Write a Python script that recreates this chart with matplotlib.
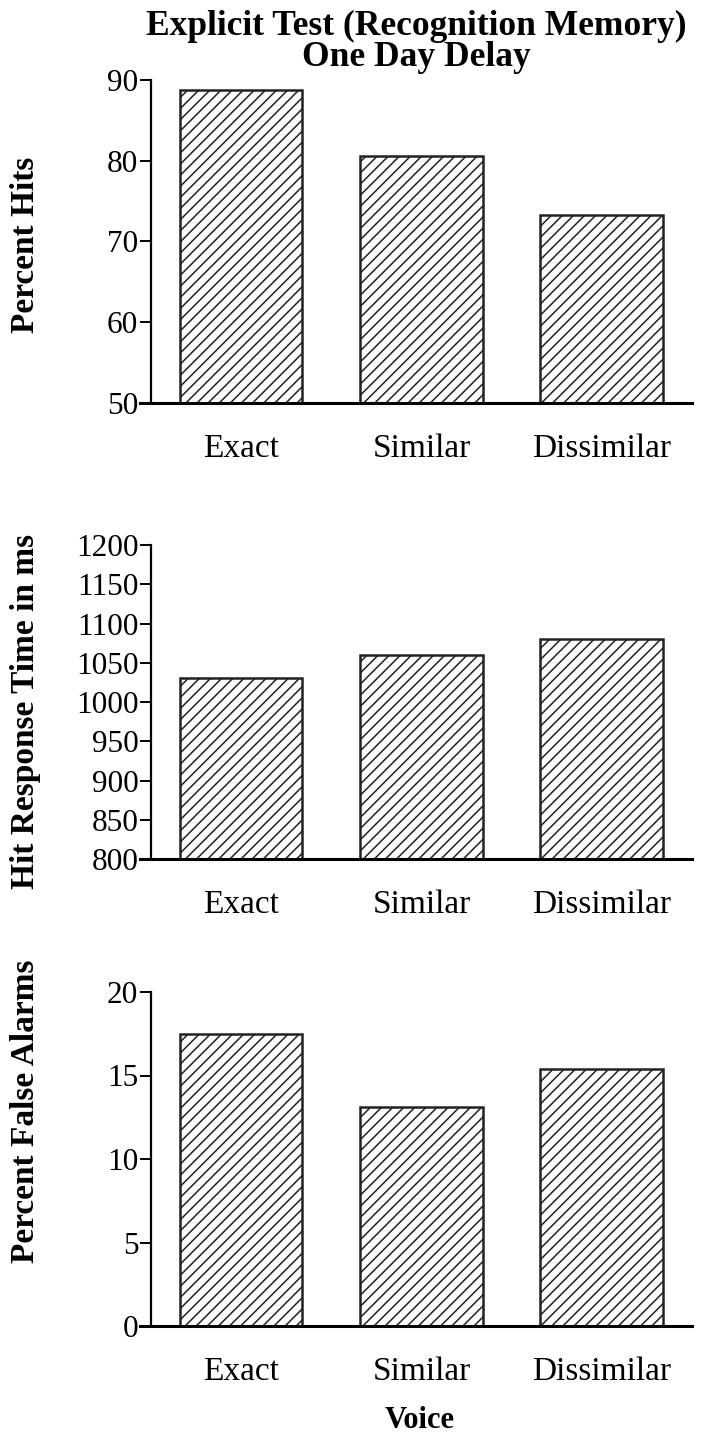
import matplotlib
matplotlib.use("Agg")
import matplotlib.pyplot as plt

plt.rcParams['font.family'] = ['Liberation Serif', 'DejaVu Serif']
plt.rcParams['hatch.linewidth'] = 1.1
plt.rcParams['hatch.color'] = '#222222'

voices = ['Exact', 'Similar', 'Dissimilar']
pct_hits = [88.8, 80.6, 73.3]
hit_rt = [1030, 1060, 1080]
pct_false_alarms = [17.5, 13.1, 15.4]

hits_ticks = [50, 60, 70, 80, 90]
rt_ticks = [800, 850, 900, 950, 1000, 1050, 1100, 1150, 1200]
fa_ticks = [0, 5, 10, 15, 20]

W, H = 701, 1447
fig = plt.figure(figsize=(W / 100, H / 100), dpi=100)


def px_axes(left, top, right, bottom):
    # axes rect from a pixel box (top-left origin)
    return fig.add_axes([left / W, 1 - bottom / H, (right - left) / W, (bottom - top) / H])


def panel(ax, vals, ticks):
    ax.spines['left'].set_position(('data', -0.5))
    x = list(range(len(voices)))
    ax.bar(x, [v - ticks[0] for v in vals], bottom=ticks[0], width=0.68,
           color='white', edgecolor='#222222', linewidth=1.8, hatch='///')
    ax.set_xlim(-0.56, 2.5)
    ax.set_ylim(ticks[0], ticks[-1])
    ax.set_yticks(ticks)
    ax.set_xticks(x)
    ax.set_xticklabels(voices)
    ax.tick_params(axis='x', length=0, pad=22, labelsize=24)
    ax.tick_params(axis='y', length=8, width=1.4, pad=1, direction='out', labelsize=22.5)
    for s in ['top', 'right']:
        ax.spines[s].set_visible(False)
    ax.spines['left'].set_linewidth(1.6)
    ax.spines['bottom'].set_linewidth(2.2)


ax1 = px_axes(140, 80, 692, 403)
panel(ax1, pct_hits, hits_ticks)

ax2 = px_axes(140, 545, 692, 859)
panel(ax2, hit_rt, rt_ticks)

ax3 = px_axes(140, 992, 692, 1326)
panel(ax3, pct_false_alarms, fa_ticks)

# y axis titles
fig.text(26 / W, 1 - 245 / H, 'Percent Hits', rotation=90, ha='center', va='center',
         fontsize=24, fontweight='bold')
fig.text(26 / W, 1 - 711 / H, 'Hit Response Time in ms', rotation=90, ha='center',
         va='center', fontsize=24, fontweight='bold')
fig.text(26 / W, 1 - 1111 / H, 'Percent False Alarms', rotation=90, ha='center',
         va='center', fontsize=24, fontweight='bold')

fig.text(416 / W, 1 - 26 / H, 'Explicit Test (Recognition Memory)', ha='center',
         va='center', fontsize=25.5, fontweight='bold')
fig.text(416 / W, 1 - 58 / H, 'One Day Delay', ha='center', va='center',
         fontsize=25.5, fontweight='bold')
fig.text(420 / W, 1 - 1420 / H, 'Voice', ha='center', va='center',
         fontsize=22, fontweight='bold')

fig.savefig('out.png', dpi=100)
